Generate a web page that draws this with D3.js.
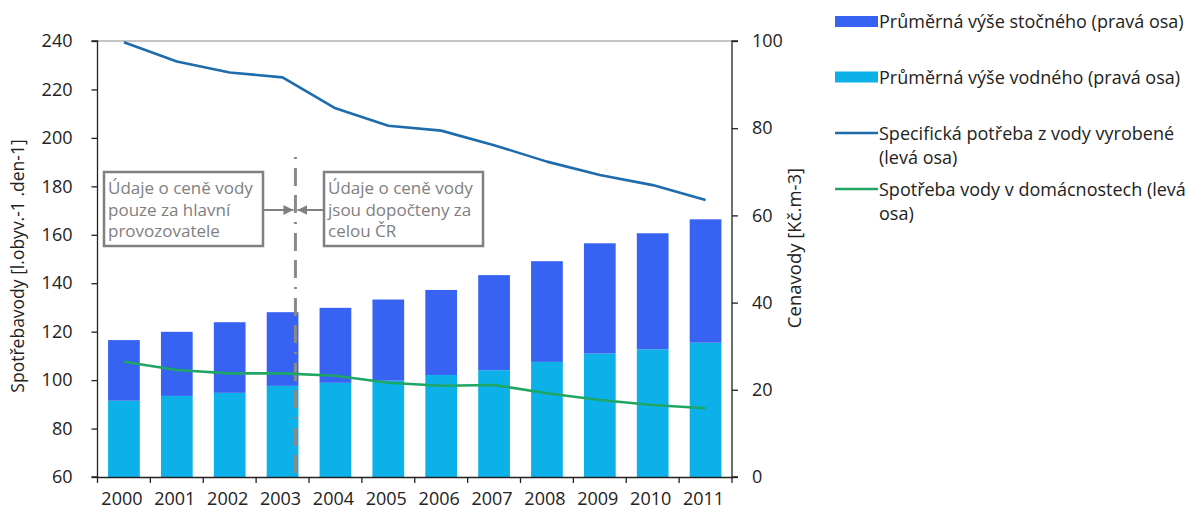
<!DOCTYPE html>
<html><head><meta charset="utf-8">
<script src="https://cdn.jsdelivr.net/npm/d3@7"></script>
<style>
body{margin:0;background:#fff;}
svg{display:block;font-family:"Open Sans",sans-serif;}
</style></head>
<body>
<svg id="c" width="1201" height="514"></svg>
<script>
const years = ["2000","2001","2002","2003","2004","2005","2006","2007","2008","2009","2010","2011"];
const vodne = [17.5, 18.6, 19.3, 20.9, 21.6, 22.1, 23.4, 24.5, 26.4, 28.3, 29.3, 30.8];
const stocne = [13.9, 14.7, 16.2, 16.9, 17.2, 18.6, 19.5, 21.8, 23.1, 25.3, 26.6, 28.3];
const specPotreba = [239.5, 231.5, 227.0, 225.0, 212.2, 205.0, 203.0, 197.0, 190.2, 184.7, 180.5, 174.4];
const spotrebaDom = [107.6, 104.2, 102.8, 102.8, 101.8, 98.9, 97.7, 98.0, 94.6, 91.8, 89.7, 88.4];
const leftTicks = [60, 80, 100, 120, 140, 160, 180, 200, 220, 240];
const rightTicks = [0, 20, 40, 60, 80, 100];
const legendLabels = [
  ["Průměrná výše stočného (pravá osa)"],
  ["Průměrná výše vodného (pravá osa)"],
  ["Specifická potřeba z vody vyrobené", "(levá osa)"],
  ["Spotřeba vody v domácnostech (levá", "osa)"]
];
const noteLeft = ["Údaje o ceně vody", "pouze za hlavní", "provozovatele"];
const noteRight = ["Údaje o ceně vody", "jsou dopočteny za", "celou ČR"];

const C_STOC = "#3762f2", C_VOD = "#0cb1ea", C_BLUE = "#1f6cad", C_GREEN = "#1fa664";
const svg = d3.select("#c");
const L = 97.5, R = 732, T = 41, B = 477;

const x = d3.scaleBand().domain(years).range([L, R]).paddingInner(0.4).paddingOuter(0.2);
const xb = d3.scaleBand().domain(years).range([L, R]);
const yL = d3.scaleLinear().domain([60, 240]).range([B, T]);
const yR = d3.scaleLinear().domain([0, 100]).range([B, T]);

// top border
svg.append("line").attr("x1", L).attr("x2", R).attr("y1", T).attr("y2", T)
  .attr("stroke", "#8c8c8c").attr("stroke-width", 1);

// bars
const g = svg.append("g");
g.selectAll(".v").data(years).join("rect")
  .attr("x", d => x(d)).attr("width", x.bandwidth())
  .attr("y", (d, i) => yR(vodne[i])).attr("height", (d, i) => yR(0) - yR(vodne[i]))
  .attr("fill", C_VOD);
g.selectAll(".s").data(years).join("rect")
  .attr("x", d => x(d)).attr("width", x.bandwidth())
  .attr("y", (d, i) => yR(vodne[i] + stocne[i])).attr("height", (d, i) => yR(vodne[i]) - yR(vodne[i] + stocne[i]))
  .attr("fill", C_STOC);

// dashed divider line
const divX = x("2003") + x.bandwidth() - 3;
svg.append("line").attr("x1", divX).attr("x2", divX).attr("y1", 157).attr("y2", B)
  .attr("stroke", "#8a8a8a").attr("stroke-width", 3).attr("stroke-dasharray", "2,9,18,9,18,9");

// lines
const cx = d => xb(d) + xb.bandwidth() / 2;
svg.append("path").datum(specPotreba)
  .attr("d", d3.line().x((d, i) => cx(years[i])).y(d => yL(d)))
  .attr("fill", "none").attr("stroke", C_BLUE).attr("stroke-width", 2.6).attr("stroke-linejoin", "round");
svg.append("path").datum(spotrebaDom)
  .attr("d", d3.line().x((d, i) => cx(years[i])).y(d => yL(d)))
  .attr("fill", "none").attr("stroke", C_GREEN).attr("stroke-width", 2.6).attr("stroke-linejoin", "round");

// axes
const axL = svg.append("g").attr("transform", `translate(${L},0)`)
  .call(d3.axisLeft(yL).tickValues(leftTicks).tickSize(6).tickPadding(19));
const axR = svg.append("g").attr("transform", `translate(${R},0)`)
  .call(d3.axisRight(yR).tickValues(rightTicks).tickSize(6).tickPadding(14));
const axB = svg.append("g").attr("transform", `translate(0,${B})`)
  .call(d3.axisBottom(xb).tickSize(0).tickPadding(15));
// category boundary ticks
svg.append("g").selectAll("line").data(years.concat(["end"])).join("line")
  .attr("x1", (d, i) => i < years.length ? xb(d) : R)
  .attr("x2", (d, i) => i < years.length ? xb(d) : R)
  .attr("y1", B).attr("y2", B + 6).attr("stroke", "#222").attr("stroke-width", 1.3);
[axL, axR, axB].forEach(a => {
  a.selectAll(".domain").attr("stroke", "#222").attr("stroke-width", 1.3);
  a.selectAll(".tick line").attr("stroke", "#222").attr("stroke-width", 1.3);
  a.selectAll("text").attr("font-size", 18).attr("fill", "#222").attr("font-family", "Open Sans");
});
axB.selectAll("text").attr("dx", -2);
axL.select(".domain").attr("d", `M-6,${B}H0V${T}H-6`);
axR.select(".domain").attr("d", `M6,${B}H0V${T}H6`);

// axis titles
svg.append("text").attr("transform", `translate(24,266) rotate(-90)`)
  .attr("text-anchor", "middle").attr("font-size", 17.5).attr("fill", "#222")
  .text("Spotřebavody [l.obyv.-1 .den-1]");
svg.append("text").attr("transform", `translate(801,248) rotate(-90)`)
  .attr("text-anchor", "middle").attr("font-size", 18.5).attr("fill", "#222")
  .text("Cenavody [Kč.m-3]");

// annotations
function note(x0, lines) {
  svg.append("rect").attr("x", x0).attr("y", 172).attr("width", 159).attr("height", 74)
    .attr("fill", "#fff").attr("stroke", "#808080").attr("stroke-width", 2.5);
  lines.forEach((t, i) => svg.append("text").attr("x", x0 + 4).attr("y", 194 + i * 21.5)
    .attr("font-size", 17).attr("fill", "#808080").text(t));
}
note(104, noteLeft);
note(324, noteRight);
svg.append("defs").html(`<marker id="ah" viewBox="0 0 10 10" refX="10" refY="5" markerWidth="5" markerHeight="5" orient="auto"><path d="M0,0L10,5L0,10z" fill="#808080"/></marker>`);
svg.append("line").attr("x1", 264).attr("x2", divX - 2).attr("y1", 210).attr("y2", 210)
  .attr("stroke", "#808080").attr("stroke-width", 2).attr("marker-end", "url(#ah)");
svg.append("line").attr("x1", 324).attr("x2", divX + 2).attr("y1", 210).attr("y2", 210)
  .attr("stroke", "#808080").attr("stroke-width", 2).attr("marker-end", "url(#ah)");

// legend
const legY = [21.5, 77, 133, 189];
const lg = svg.append("g");
legendLabels.forEach((lines, i) => {
  if (i < 2) {
    lg.append("rect").attr("x", 835).attr("y", legY[i] - 5.5).attr("width", 43).attr("height", 11)
      .attr("fill", i === 0 ? C_STOC : C_VOD);
  } else {
    lg.append("line").attr("x1", 835).attr("x2", 878).attr("y1", legY[i]).attr("y2", legY[i])
      .attr("stroke", i === 2 ? C_BLUE : C_GREEN).attr("stroke-width", 2.6);
  }
  lines.forEach((t, j) => lg.append("text").attr("x", 879).attr("y", legY[i] + 6.5 + j * 24)
    .attr("font-size", 18).attr("fill", "#222").text(t));
});
</script>
</body></html>
